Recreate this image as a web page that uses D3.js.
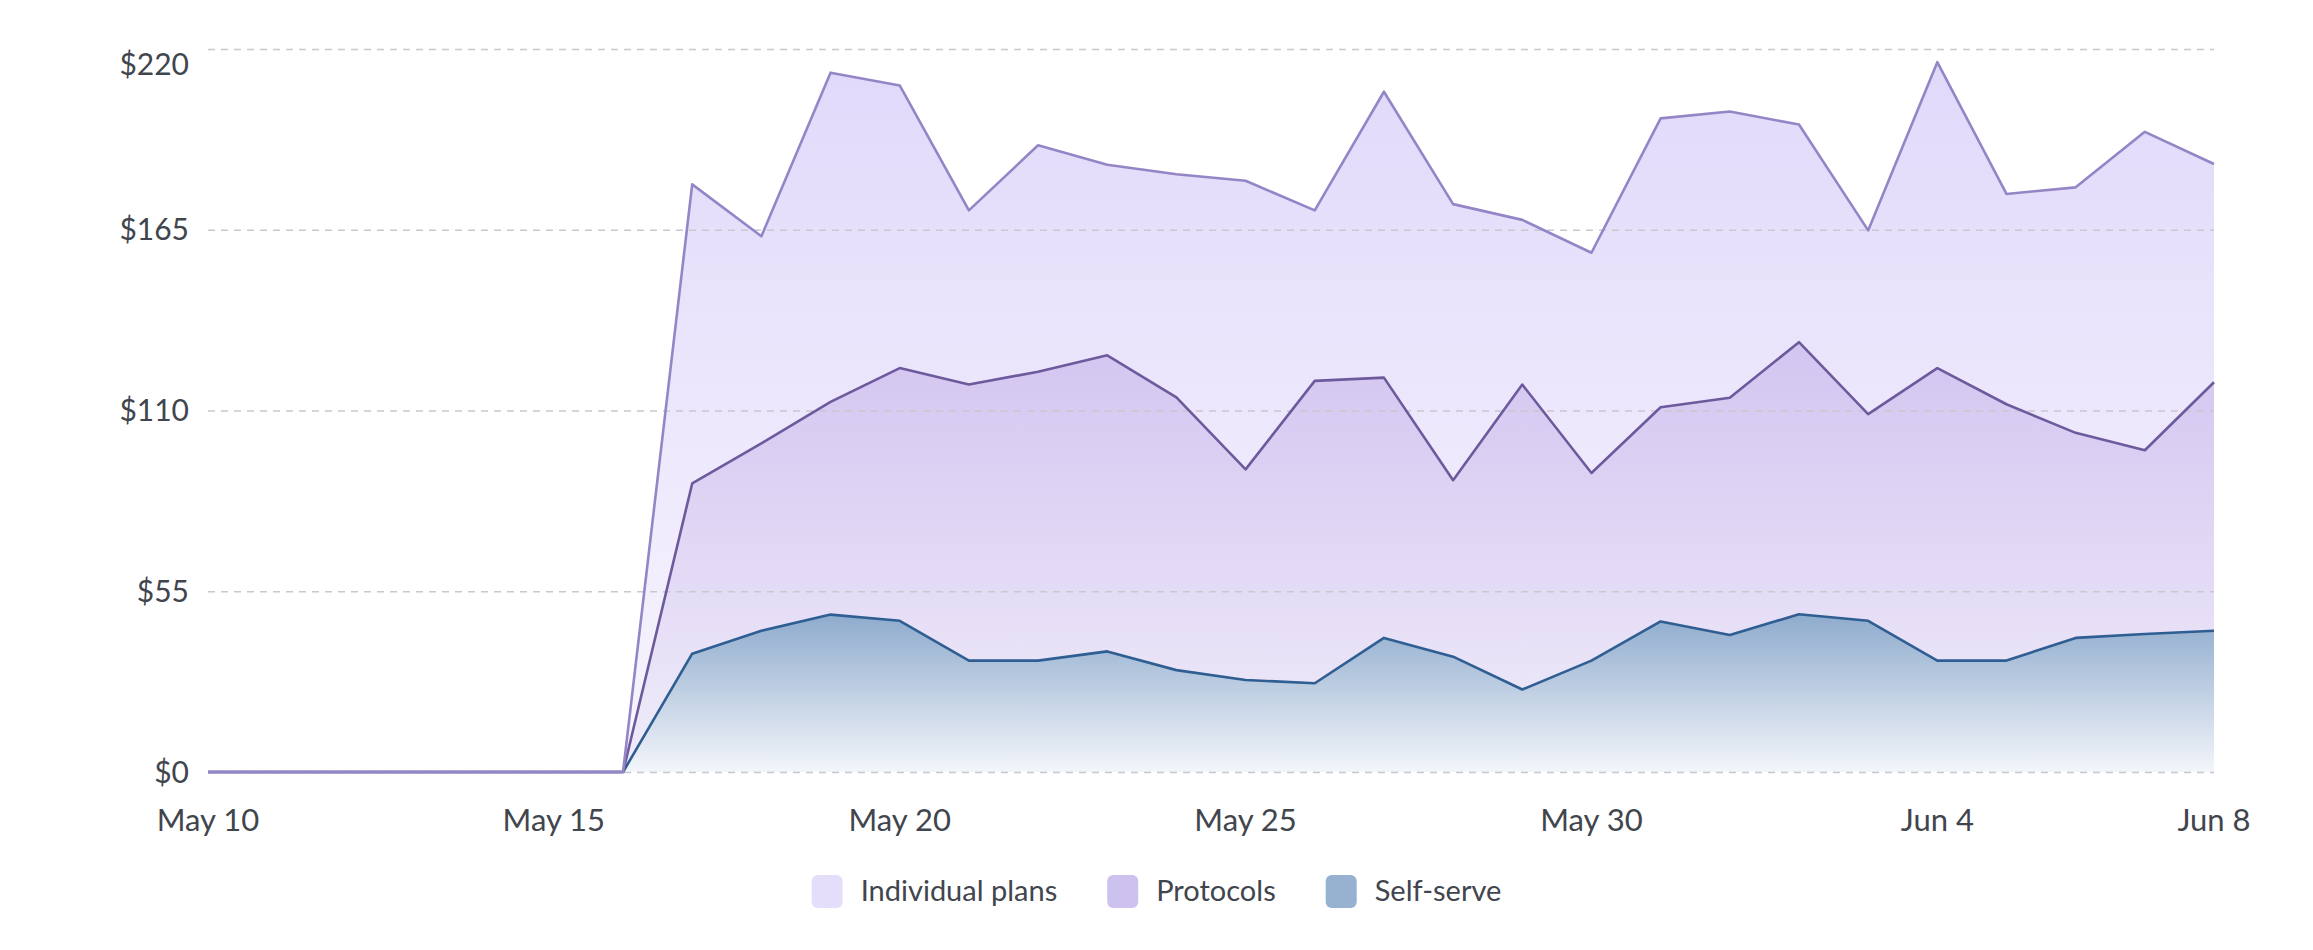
<!DOCTYPE html>
<html>
<head>
<meta charset="utf-8">
<script src="https://cdn.jsdelivr.net/npm/d3@7"></script>
<style>
  body { margin: 0; background: #fff; }
  text { font-family: Lato, "Open Sans", sans-serif; fill: #41454d; }
</style>
</head>
<body>
<script>
// data: daily revenue per plan type, May 10 - Jun 8
var days = ["2024-05-10","2024-05-11","2024-05-12","2024-05-13","2024-05-14","2024-05-15","2024-05-16",
  "2024-05-17","2024-05-18","2024-05-19","2024-05-20","2024-05-21","2024-05-22","2024-05-23","2024-05-24",
  "2024-05-25","2024-05-26","2024-05-27","2024-05-28","2024-05-29","2024-05-30","2024-05-31","2024-06-01",
  "2024-06-02","2024-06-03","2024-06-04","2024-06-05","2024-06-06","2024-06-07","2024-06-08"];
var selfServe = [0,0,0,0,0,0,0,
  36,43,47.9,46,33.9,33.9,36.7,31,28,27,40.8,35.1,25.1,33.9,45.8,41.7,48,46,33.9,33.9,40.8,42,43];
var protocols = [0,0,0,0,0,0,0,
  51.8,57,64.7,76.9,84,87.9,90.1,83,64.1,92,79.2,53.7,92.8,57.1,65.2,72.2,82.8,62.9,89,78,62.4,55.9,75.6];
var individualPlans = [0,0,0,0,0,0,0,
  91,63,100.2,86,53,68.9,58,67.9,87.8,51.9,87,84,50.1,67,87.9,87.1,66.2,55.9,93.1,64,74.7,96.9,66.4];
var seriesNames = ["Self-serve", "Protocols", "Individual plans"];
var yTicks = [0, 55, 110, 165, 220];
var xTicks = ["2024-05-10","2024-05-15","2024-05-20","2024-05-25","2024-05-30","2024-06-04","2024-06-08"];

window.onload = function(){
    var w = 2313, h = 950;
    var left = 208, right = 2214, top = 49, bottom = 772;

    var svg = d3.select("body").append("svg")
        .attr("width", w)
        .attr("height", h);

    var parse = d3.utcParse("%Y-%m-%d");
    var rows = days.map(function(d, i){
        return {date: parse(d), "Self-serve": selfServe[i], "Protocols": protocols[i], "Individual plans": individualPlans[i]};
    });

    var x = d3.scaleUtc()
        .domain(d3.extent(rows, function(d){ return d.date; }))
        .range([left, right]);
    var y = d3.scaleLinear()
        .domain([0, 220])
        .range([bottom, top]);

    var stacked = d3.stack().keys(seriesNames)(rows);

    var colors = {
        "Self-serve": {line: "#2f5e92", top: "#8eabcd", bot: "#f3f5fa", legend: "#97b1d0"},
        "Protocols": {line: "#6d5a9d", top: "#d2c5f0", bot: "#f1edfa", legend: "#ccc1ef"},
        "Individual plans": {line: "#9486c6", top: "#e1d9fa", bot: "#f8f6fe", legend: "#e4defa"}
    };

    //gradients
    var defs = svg.append("defs");
    seriesNames.forEach(function(k, i){
        var g = defs.append("linearGradient")
            .attr("id", "grad" + i)
            .attr("x1", 0).attr("y1", 0).attr("x2", 0).attr("y2", 1);
        g.append("stop").attr("offset", "0%").attr("stop-color", colors[k].top);
        g.append("stop").attr("offset", "100%").attr("stop-color", colors[k].bot);
    });

    var area = d3.area()
        .x(function(d){ return x(d.data.date); })
        .y0(function(d){ return y(d[0]); })
        .y1(function(d){ return y(d[1]); });
    var line = d3.line()
        .x(function(d){ return x(d.data.date); })
        .y(function(d){ return y(d[1]); });

    svg.selectAll(".area")
        .data(stacked)
        .enter()
        .append("path")
        .attr("class", "area")
        .attr("d", area)
        .style("fill", function(d, i){ return "url(#grad" + i + ")"; });

    //dashed grid
    svg.append("g")
        .attr("class", "grid")
        .attr("transform", "translate(" + left + ",0)")
        .call(d3.axisLeft(y).tickValues(yTicks).tickSize(-(right - left)).tickFormat(""))
        .call(function(g){
            g.select(".domain").remove();
            g.selectAll("line")
                .attr("stroke", "#c8c8cf")
                .attr("stroke-width", 1.5)
                .attr("stroke-dasharray", "7,6");
        });

    svg.selectAll(".line")
        .data(stacked)
        .enter()
        .append("path")
        .attr("class", "line")
        .attr("d", line)
        .style("fill", "none")
        .style("stroke", function(d){ return colors[d.key].line; })
        .style("stroke-width", 2.6)
        .style("stroke-linejoin", "round");

    //y labels
    svg.selectAll(".ylabel")
        .data(yTicks)
        .enter()
        .append("text")
        .attr("class", "ylabel")
        .attr("x", 189)
        .attr("y", function(d){ return Math.max(y(d), 64); })
        .attr("dy", "0.35em")
        .attr("text-anchor", "end")
        .style("font-size", "30px")
        .text(function(d){ return "$" + d; });

    //x labels
    var fmt = d3.utcFormat("%b %-d");
    svg.selectAll(".xlabel")
        .data(xTicks)
        .enter()
        .append("text")
        .attr("class", "xlabel")
        .attr("x", function(d){ return x(parse(d)); })
        .attr("y", 820)
        .attr("dy", "0.35em")
        .attr("text-anchor", "middle")
        .style("font-size", "31px")
        .text(function(d){ return fmt(parse(d)); });

    //legend
    var legendOrder = ["Individual plans", "Protocols", "Self-serve"];
    var legend = svg.append("g").attr("class", "legend");
    var cx = 0;
    legendOrder.forEach(function(k){
        var item = legend.append("g").attr("transform", "translate(" + cx + ",0)");
        item.append("rect")
            .attr("x", 0).attr("y", -16)
            .attr("width", 31).attr("height", 33)
            .attr("rx", 6)
            .style("fill", colors[k].legend);
        var t = item.append("text")
            .attr("x", 49).attr("y", 0)
            .attr("dy", "0.35em")
            .style("font-size", "29px")
            .text(k);
        cx += 49 + t.node().getComputedTextLength() + 50;
    });
    var lw = cx - 50;
    legend.attr("transform", "translate(" + (w / 2 - lw / 2) + ",891)");
};
</script>
</body>
</html>
